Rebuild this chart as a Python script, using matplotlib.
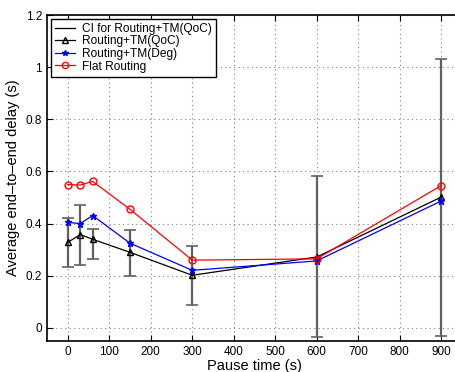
import matplotlib
matplotlib.use("Agg")
import matplotlib.pyplot as plt
import numpy as np
from matplotlib.lines import Line2D

plt.rcParams['font.family'] = ['Liberation Sans', 'DejaVu Sans']

pause = [0, 30, 60, 150, 300, 600, 900]
qoc = [0.328, 0.358, 0.340, 0.290, 0.202, 0.272, 0.502]
deg = [0.405, 0.400, 0.431, 0.325, 0.221, 0.257, 0.487]
flat = [0.550, 0.548, 0.562, 0.455, 0.260, 0.265, 0.546]
ci_low = [0.232, 0.242, 0.264, 0.201, 0.087, -0.036, -0.029]
ci_high = [0.420, 0.472, 0.380, 0.376, 0.315, 0.583, 1.033]

xticks = list(range(0, 1000, 100))
yticks = [0, 0.2, 0.4, 0.6, 0.8, 1.0, 1.2]
yticklabels = ['0', '0.2', '0.4', '0.6', '0.8', '1', '1.2']

fig = plt.figure(figsize=(4.56, 3.72), dpi=100)
W, H = 456, 372
ax = fig.add_axes([47 / W, 1 - 341 / H, (462 - 47) / W, (341 - 15) / H])

q = np.array(qoc)
lo = q - np.array(ci_low)
hi = np.array(ci_high) - q
ax.errorbar(pause, qoc, yerr=[lo, hi], fmt='none', ecolor='0.38',
            elinewidth=1.6, capsize=4, capthick=1.2, zorder=2)
ax.plot(pause, qoc, color='black', marker='^', markersize=5, markerfacecolor='none',
        linewidth=0.9, zorder=3)
ax.plot(pause, deg, color='blue', marker='*', markersize=4.5, linewidth=0.9, zorder=3)
ax.plot(pause, flat, color='red', marker='o', markersize=5, markerfacecolor='none',
        linewidth=0.9, zorder=3)

handles = [
    Line2D([], [], color='black', linewidth=0.9),
    Line2D([], [], color='black', marker='^', markersize=4.5, markerfacecolor='none', linewidth=0.9),
    Line2D([], [], color='blue', marker='*', markersize=4, linewidth=0.9),
    Line2D([], [], color='red', marker='o', markersize=4.5, markerfacecolor='none', linewidth=0.9),
]
labels = ['CI for Routing+TM(QoC)', 'Routing+TM(QoC)', 'Routing+TM(Deg)', 'Flat Routing']
leg = ax.legend(handles, labels, loc='upper left', fontsize=8.6, frameon=True, fancybox=False,
                edgecolor='black', framealpha=1, borderpad=0.35, labelspacing=0.05,
                handlelength=1.7, handletextpad=0.6, borderaxespad=0.3)
leg.get_frame().set_linewidth(1.0)

ax.set_xlim(-50, 950)
ax.set_ylim(-0.05, 1.2)
ax.set_xticks(xticks)
ax.set_yticks(yticks)
ax.set_yticklabels(yticklabels)
ax.tick_params(direction='in', top=True, right=True, labelsize=8.5, length=4)
ax.grid(True, linestyle=(0, (1, 3)), color='0.5', linewidth=0.8)
for s in ax.spines.values():
    s.set_linewidth(1.2)
ax.set_xlabel('Pause time (s)', fontsize=10.5, labelpad=1)
ax.set_ylabel('Average end\u2013to\u2013end delay (s)', fontsize=10.5, labelpad=4)

fig.savefig('out.png', dpi=100)
